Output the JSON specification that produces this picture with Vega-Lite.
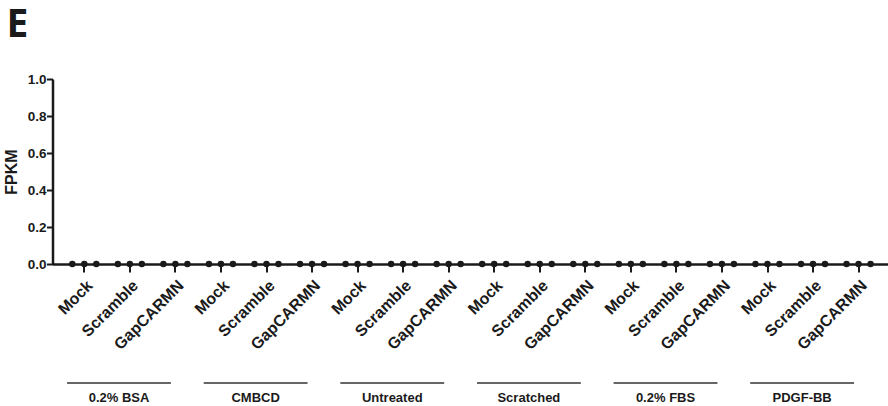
{
  "$schema": "https://vega.github.io/schema/vega-lite/v6.json",
  "autosize": "none",
  "padding": {"left": 52.5, "top": 79, "right": 0, "bottom": 142},
  "width": 838,
  "height": 185,
  "background": "white",
  "config": {
    "view": {"stroke": null},
    "font": "Liberation Sans",
    "axis": {"grid": false, "domainColor": "#1a1a1a", "tickColor": "#1a1a1a", "labelColor": "#1a1a1a", "titleColor": "#1a1a1a", "labelFont": "Liberation Sans", "titleFont": "Liberation Sans"},
    "axisX": {"title": null, "labelExpr": "split(datum.label, '|')[1]", "labelAngle": -45, "labelFontSize": 16, "labelFontWeight": "bold", "labelPadding": 5, "tickSize": 8, "tickWidth": 2, "domainWidth": 2.5, "labelOverlap": false},
    "axisY": {"values": [0, 0.2, 0.4, 0.6, 0.8, 1.0], "format": ".1f", "labelOverlap": false, "labelFontSize": 13.5, "labelFontWeight": "bold", "labelPadding": 0.5, "tickSize": 6, "tickWidth": 2, "domainWidth": 2.5, "titleFontSize": 16, "titleFontWeight": "bold", "titlePadding": 8}
  },
  "title": {"text": "E", "anchor": "start", "frame": "group", "font": "Open Sans", "fontSize": 39, "fontWeight": "bold", "color": "#1a1a1a", "dx": -46, "dy": 3, "offset": 30},
  "datasets": {
    "points": [
      {"cell": "0.2% BSA|Mock", "rep": 1, "fpkm": 0}, {"cell": "0.2% BSA|Mock", "rep": 2, "fpkm": 0}, {"cell": "0.2% BSA|Mock", "rep": 3, "fpkm": 0},
      {"cell": "0.2% BSA|Scramble", "rep": 1, "fpkm": 0}, {"cell": "0.2% BSA|Scramble", "rep": 2, "fpkm": 0}, {"cell": "0.2% BSA|Scramble", "rep": 3, "fpkm": 0},
      {"cell": "0.2% BSA|GapCARMN", "rep": 1, "fpkm": 0}, {"cell": "0.2% BSA|GapCARMN", "rep": 2, "fpkm": 0}, {"cell": "0.2% BSA|GapCARMN", "rep": 3, "fpkm": 0},
      {"cell": "CMBCD|Mock", "rep": 1, "fpkm": 0}, {"cell": "CMBCD|Mock", "rep": 2, "fpkm": 0}, {"cell": "CMBCD|Mock", "rep": 3, "fpkm": 0},
      {"cell": "CMBCD|Scramble", "rep": 1, "fpkm": 0}, {"cell": "CMBCD|Scramble", "rep": 2, "fpkm": 0}, {"cell": "CMBCD|Scramble", "rep": 3, "fpkm": 0},
      {"cell": "CMBCD|GapCARMN", "rep": 1, "fpkm": 0}, {"cell": "CMBCD|GapCARMN", "rep": 2, "fpkm": 0}, {"cell": "CMBCD|GapCARMN", "rep": 3, "fpkm": 0},
      {"cell": "Untreated|Mock", "rep": 1, "fpkm": 0}, {"cell": "Untreated|Mock", "rep": 2, "fpkm": 0}, {"cell": "Untreated|Mock", "rep": 3, "fpkm": 0},
      {"cell": "Untreated|Scramble", "rep": 1, "fpkm": 0}, {"cell": "Untreated|Scramble", "rep": 2, "fpkm": 0}, {"cell": "Untreated|Scramble", "rep": 3, "fpkm": 0},
      {"cell": "Untreated|GapCARMN", "rep": 1, "fpkm": 0}, {"cell": "Untreated|GapCARMN", "rep": 2, "fpkm": 0}, {"cell": "Untreated|GapCARMN", "rep": 3, "fpkm": 0},
      {"cell": "Scratched|Mock", "rep": 1, "fpkm": 0}, {"cell": "Scratched|Mock", "rep": 2, "fpkm": 0}, {"cell": "Scratched|Mock", "rep": 3, "fpkm": 0},
      {"cell": "Scratched|Scramble", "rep": 1, "fpkm": 0}, {"cell": "Scratched|Scramble", "rep": 2, "fpkm": 0}, {"cell": "Scratched|Scramble", "rep": 3, "fpkm": 0},
      {"cell": "Scratched|GapCARMN", "rep": 1, "fpkm": 0}, {"cell": "Scratched|GapCARMN", "rep": 2, "fpkm": 0}, {"cell": "Scratched|GapCARMN", "rep": 3, "fpkm": 0},
      {"cell": "0.2% FBS|Mock", "rep": 1, "fpkm": 0}, {"cell": "0.2% FBS|Mock", "rep": 2, "fpkm": 0}, {"cell": "0.2% FBS|Mock", "rep": 3, "fpkm": 0},
      {"cell": "0.2% FBS|Scramble", "rep": 1, "fpkm": 0}, {"cell": "0.2% FBS|Scramble", "rep": 2, "fpkm": 0}, {"cell": "0.2% FBS|Scramble", "rep": 3, "fpkm": 0},
      {"cell": "0.2% FBS|GapCARMN", "rep": 1, "fpkm": 0}, {"cell": "0.2% FBS|GapCARMN", "rep": 2, "fpkm": 0}, {"cell": "0.2% FBS|GapCARMN", "rep": 3, "fpkm": 0},
      {"cell": "PDGF-BB|Mock", "rep": 1, "fpkm": 0}, {"cell": "PDGF-BB|Mock", "rep": 2, "fpkm": 0}, {"cell": "PDGF-BB|Mock", "rep": 3, "fpkm": 0},
      {"cell": "PDGF-BB|Scramble", "rep": 1, "fpkm": 0}, {"cell": "PDGF-BB|Scramble", "rep": 2, "fpkm": 0}, {"cell": "PDGF-BB|Scramble", "rep": 3, "fpkm": 0},
      {"cell": "PDGF-BB|GapCARMN", "rep": 1, "fpkm": 0}, {"cell": "PDGF-BB|GapCARMN", "rep": 2, "fpkm": 0}, {"cell": "PDGF-BB|GapCARMN", "rep": 3, "fpkm": 0}
    ],
    "groups": [
      {"group": "0.2% BSA", "first": "0.2% BSA|Mock", "mid": "0.2% BSA|Scramble", "last": "0.2% BSA|GapCARMN"},
      {"group": "CMBCD", "first": "CMBCD|Mock", "mid": "CMBCD|Scramble", "last": "CMBCD|GapCARMN"},
      {"group": "Untreated", "first": "Untreated|Mock", "mid": "Untreated|Scramble", "last": "Untreated|GapCARMN"},
      {"group": "Scratched", "first": "Scratched|Mock", "mid": "Scratched|Scramble", "last": "Scratched|GapCARMN"},
      {"group": "0.2% FBS", "first": "0.2% FBS|Mock", "mid": "0.2% FBS|Scramble", "last": "0.2% FBS|GapCARMN"},
      {"group": "PDGF-BB", "first": "PDGF-BB|Mock", "mid": "PDGF-BB|Scramble", "last": "PDGF-BB|GapCARMN"}
    ]
  },
  "layer": [
    {
      "data": {"name": "points"},
      "mark": {"type": "circle", "size": 42, "opacity": 1, "color": "#1a1a1a"},
      "encoding": {
        "x": {
          "field": "cell", "type": "nominal", "sort": null,
          "scale": {"domain": ["0.2% BSA|Mock","0.2% BSA|Scramble","0.2% BSA|GapCARMN","CMBCD|Mock","CMBCD|Scramble","CMBCD|GapCARMN","Untreated|Mock","Untreated|Scramble","Untreated|GapCARMN","Scratched|Mock","Scratched|Scramble","Scratched|GapCARMN","0.2% FBS|Mock","0.2% FBS|Scramble","0.2% FBS|GapCARMN","PDGF-BB|Mock","PDGF-BB|Scramble","PDGF-BB|GapCARMN"], "paddingInner": 0, "paddingOuter": 0.2}
        },
        "xOffset": {"field": "rep", "type": "ordinal", "scale": {"type": "band", "domain": [1, 2, 3], "range": [4.7, 40.7], "paddingInner": 0, "paddingOuter": 0}},
        "y": {
          "field": "fpkm", "type": "quantitative", "title": "FPKM",
          "scale": {"domain": [0, 1], "nice": false}
        }
      }
    },
    {
      "data": {"name": "groups"},
      "mark": {"type": "rule", "strokeWidth": 1.5, "color": "#333333"},
      "encoding": {
        "x": {"field": "first", "type": "nominal", "bandPosition": 0.12, "title": null},
        "x2": {"field": "last", "bandPosition": 0.4},
        "y": {"datum": -0.643, "type": "quantitative", "title": "FPKM"}
      }
    },
    {
      "data": {"name": "groups"},
      "mark": {"type": "text", "fontSize": 13, "fontWeight": "bold", "color": "#1a1a1a", "align": "center", "baseline": "alphabetic"},
      "encoding": {
        "x": {"field": "mid", "type": "nominal", "bandPosition": 0.26, "title": null},
        "y": {"datum": -0.744, "type": "quantitative", "title": "FPKM"},
        "text": {"field": "group"}
      }
    }
  ]
}
